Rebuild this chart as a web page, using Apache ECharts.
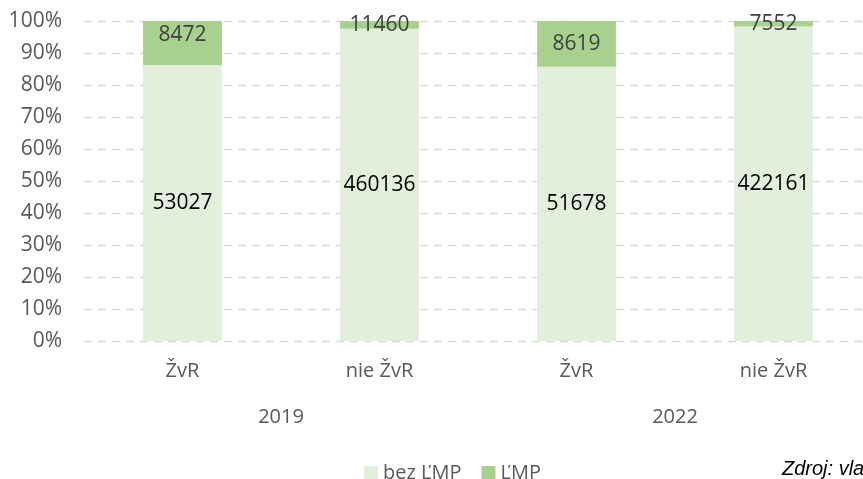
<!DOCTYPE html>
<html>
<head>
<meta charset="utf-8">
<script src="https://cdn.jsdelivr.net/npm/echarts@6/dist/echarts.min.js"></script>
<style>
    html, body { margin: 0; padding: 0; background: #fff; overflow: hidden; }
    /* the plot runs past the right edge of the window, as in the source */
    #main { width: 900px; height: 479px; }
</style>
</head>
<body>
<div id="main"></div>
<script>
'use strict';

var categories = ['ŽvR', 'nie ŽvR', 'ŽvR', 'nie ŽvR'];
var years = ['2019', '2022'];
var bezLmp = [53027, 460136, 51678, 422161];
var lmp = [8472, 11460, 8619, 7552];
var yTicks = [0, 10, 20, 30, 40, 50, 60, 70, 80, 90, 100];

var fontFamily = '"Open Sans", "Noto Sans", sans-serif';

function share(part, i) {
    return part[i] / (bezLmp[i] + lmp[i]) * 100;
}

function dashboardChart() {
    var myChart = echarts.init(document.getElementById('main'));
    var option = {
        animation: false,
        textStyle: { fontFamily: fontFamily },
        grid: {
            left: 84,
            top: 21,
            width: 788,
            height: 320
        },
        legend: {
            data: ['bez ĽMP', 'ĽMP'],
            left: 359,
            top: 458,
            itemWidth: 14,
            itemHeight: 14,
            itemGap: 20,
            icon: 'rect',
            textStyle: { fontSize: 20, color: '#595959', fontFamily: fontFamily }
        },
        xAxis: [{
            type: 'category',
            data: categories,
            axisLine: { show: false },
            axisTick: { show: false },
            axisLabel: { fontSize: 20, color: '#595959', margin: 20 }
        }, {
            type: 'category',
            data: years,
            position: 'bottom',
            offset: 46,
            axisLine: { show: false },
            axisTick: { show: false },
            axisLabel: { fontSize: 20, color: '#595959', margin: 20 }
        }],
        yAxis: [{
            type: 'value',
            min: yTicks[0],
            max: yTicks[yTicks.length - 1],
            interval: 10,
            axisLine: { show: false },
            axisTick: { show: false },
            axisLabel: {
                fontSize: 21,
                color: '#595959',
                margin: 22,
                formatter: '{value}%'
            },
            splitLine: {
                lineStyle: { color: '#D9D9D9', type: [8, 6], width: 1.3 }
            }
        }],
        series: [{
            name: 'bez ĽMP',
            type: 'bar',
            stack: 'total',
            barCategoryGap: '60%',
            itemStyle: { color: '#E2EFDA' },
            label: {
                show: true,
                position: 'inside',
                fontSize: 21,
                color: '#000',
                formatter: function(p) { return bezLmp[p.dataIndex]; }
            },
            data: bezLmp.map(function(v, i) { return share(bezLmp, i); })
        }, {
            name: 'ĽMP',
            type: 'bar',
            stack: 'total',
            itemStyle: { color: '#A9D18E' },
            label: {
                show: true,
                position: 'inside',
                fontSize: 21,
                color: '#404040',
                formatter: function(p) { return lmp[p.dataIndex]; }
            },
            data: lmp.map(function(v, i) {
                // first label sits a bit higher in the source
                var item = { value: share(lmp, i) };
                if (i === 0) item.label = { offset: [0, -8] };
                return item;
            })
        }],
        graphic: [{
            type: 'text',
            left: 782,
            top: 459,
            style: {
                text: 'Zdroj: vlastné spracovanie',
                fontSize: 20,
                fontStyle: 'italic',
                fontFamily: '"Liberation Sans", Arial, sans-serif',
                fill: '#000'
            }
        }]
    };
    myChart.setOption(option);
}

dashboardChart();
</script>
</body>
</html>
